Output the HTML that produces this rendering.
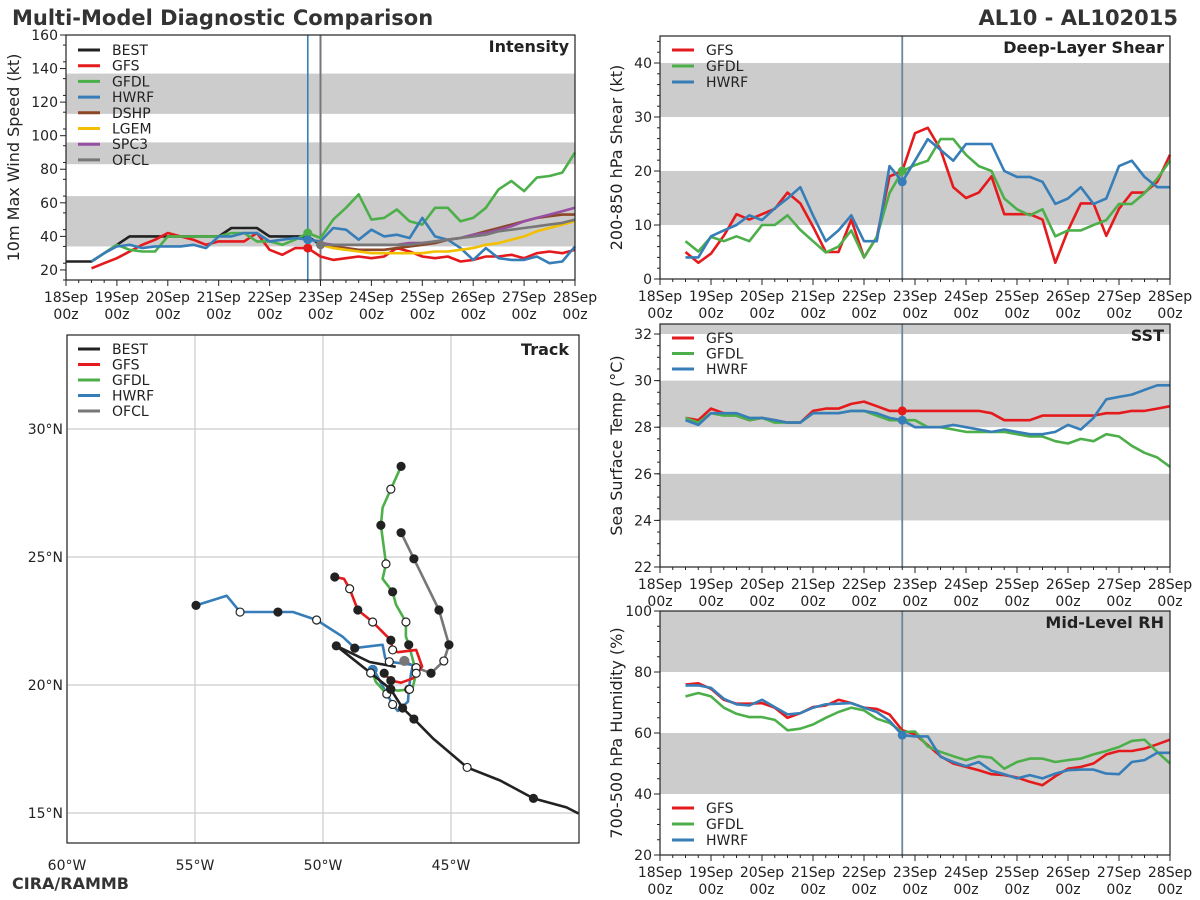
<!DOCTYPE html>
<html><head><meta charset="utf-8">
<style>
body{margin:0;background:#fff;}
svg{display:block;font-family:"DejaVu Sans","Liberation Sans",sans-serif;}
</style></head>
<body>
<svg id="fig" width="1200" height="900" viewBox="0 0 1200 900" xmlns="http://www.w3.org/2000/svg">
<text x="12" y="25" font-size="21" font-weight="bold" fill="#333">Multi-Model Diagnostic Comparison</text>
<text x="1178" y="25" font-size="21" font-weight="bold" fill="#333" text-anchor="end">AL10 - AL102015</text>
<text x="12" y="889" font-size="16" font-weight="bold" fill="#333">CIRA/RAMMB</text>
</svg>
<script>
// ---------- data ----------
const dayLabels = ["18Sep","19Sep","20Sep","21Sep","22Sep","23Sep","24Sep","25Sep","26Sep","27Sep","28Sep"];
const N = null;
// intensity (kt), 6-hourly from 18Sep00z (index 0..40)
const intBEST = [25,25,25,30,35,40,40,40,40,40,40,40,40,45,45,45,40,40,40,40,35];
const intGFS = [N,N,21,24,27,31,35,38,42,40,38,35,37,37,37,42,32,29,33,33,28,26,27,28,27,28,33,31,28,27,28,25,26,28,28,29,27,30,31,30,32];
const intGFDL = [N,N,25,30,35,32,31,31,40,40,40,40,40,42,42,37,37,35,38,42,39,50,57,65,50,51,56,49,47,57,57,49,51,57,68,73,67,75,76,78,90];
const intHWRF = [N,N,25,30,34,35,33,34,34,34,35,33,40,40,42,42,37,38,39,38,37,45,44,38,44,40,41,39,51,40,38,33,26,33,27,26,26,28,24,25,34];
const intDSHP = [35,34,33,32,32,32,33,34,35,36,38,39,41,43,45,47,49,51,52,53,53];
const intLGEM = [35,33,32,31,30,30,30,30,30,31,31,32,33,35,36,38,40,43,45,47,49];
const intSPC3 = [36,35,35,35,35,35,35,36,36,37,38,39,41,42,44,46,49,51,53,55,57];
const intOFCL = [35,35,35,35,35,35,35,35,36,37,38,39,40,41,43,44,45,46,47,48,50];
const intTicks = [20,40,60,80,100,120,140,160];
// shear (kt), index 2..40
const shrGFS = [5,3,4.7,8,12,11,12,13,16,14,9.7,5,5,11,4,7.8,19,20,27,28,24,17,15,16,19,12,12,12,11,3,9,14,14,8,13,16,16,18,23];
const shrGFDL = [7,5.1,7.8,7,7.9,7,10,10,11.8,9.1,7,4.9,6,9,4,7.8,15.9,20,21.1,21.9,25.9,25.9,23,20.9,20,14.9,12.9,11.8,12.9,7.9,9,9,10,10.9,13.9,13.9,15.9,18.6,21.9];
const shrHWRF = [4,4,7.9,9,10,11.8,10.9,13.1,14.9,17,11.8,7,9,11.8,7,7,20.9,18,21.9,25.9,23.9,21.9,25,25,25,20,18.9,18.9,18,13.9,14.9,17,13.9,14.9,20.9,21.9,18.9,17,17];
const shrTicks = [0,10,20,30,40];
// SST (C), index 2..40
const sstGFS = [28.4,28.3,28.8,28.6,28.5,28.3,28.4,28.3,28.2,28.2,28.7,28.8,28.8,29.0,29.1,28.9,28.7,28.7,28.7,28.7,28.7,28.7,28.7,28.7,28.6,28.3,28.3,28.3,28.5,28.5,28.5,28.5,28.5,28.6,28.6,28.7,28.7,28.8,28.9];
const sstGFDL = [28.4,28.2,28.6,28.5,28.5,28.3,28.4,28.2,28.2,28.2,28.6,28.6,28.6,28.7,28.7,28.5,28.3,28.3,28.3,28.0,28.0,27.9,27.8,27.8,27.8,27.8,27.7,27.6,27.6,27.4,27.3,27.5,27.4,27.7,27.6,27.2,26.9,26.7,26.3];
const sstHWRF = [28.3,28.1,28.6,28.6,28.6,28.4,28.4,28.3,28.2,28.2,28.6,28.6,28.6,28.7,28.7,28.6,28.4,28.3,28.0,28.0,28.0,28.1,28.0,27.9,27.8,27.9,27.8,27.7,27.7,27.8,28.1,27.9,28.4,29.2,29.3,29.4,29.6,29.8,29.8];
const sstTicks = [22,24,26,28,30,32];
// RH (%), index 2..40
const rhGFS = [75.9,76.3,74.5,70.9,69.6,69.6,69.8,68.3,65.0,66.5,68.5,69.0,70.9,69.8,68.3,67.9,66.1,60.9,59.6,56.0,52.4,50.0,48.9,47.8,46.5,46.2,45.4,44.0,42.9,45.8,48.3,48.9,50.0,53.0,54.1,54.1,54.9,56.3,57.8];
const rhGFDL = [72.0,73.1,72.0,68.3,66.3,65.2,65.2,64.3,60.9,61.4,62.8,65.0,66.9,68.3,67.4,64.7,63.3,60.3,60.5,55.6,53.8,52.4,51.1,52.4,51.9,48.3,50.5,51.6,51.6,50.5,51.1,51.6,53.0,54.1,55.4,57.4,57.8,53.8,50.0];
const rhHWRF = [75.6,75.6,74.8,71.2,69.4,69.0,70.9,68.5,66.1,66.5,68.3,69.4,69.6,69.8,68.3,66.9,64.0,59.3,58.9,58.9,52.2,50.5,49.1,50.5,47.6,46.5,45.1,46.2,45.1,46.7,47.8,48.0,48.0,46.7,46.5,50.5,51.1,53.5,53.5];
const rhTicks = [20,40,60,80,100];
// track (lon, lat)
const bestLon = [-40.02,-40.49,-41.78,-43.08,-44.37,-45.71,-46.45,-46.89,-47.36,-48.14,-49.48,-48.18,-47.16];
const bestLat = [14.98,15.22,15.57,16.27,16.78,17.92,18.67,19.10,19.84,20.47,21.53,20.90,20.71];
const bestMrk = ["","","f","","o","","f","f","f","o","f","",""];
const gfsLon = [-47.61,-47.35,-46.95,-46.49,-46.13,-46.36,-47.08,-47.28,-47.35,-48.06,-48.64,-48.96,-49.18,-49.54];
const gfsLat = [20.46,20.17,20.09,20.26,20.72,21.37,21.28,21.37,21.75,22.46,22.93,23.76,24.15,24.22];
const gfsMrk = ["f","f","","","","","","o","f","o","f","o","","f"];
const gfdlLon = [-48.06,-47.94,-47.51,-47.35,-47.08,-46.62,-46.49,-46.36,-46.49,-46.65,-46.76,-46.76,-47.15,-47.28,-47.67,-47.54,-47.74,-47.67,-47.35,-46.95];
const gfdlLat = [20.46,20.13,19.65,19.83,19.78,19.83,19.93,20.46,20.98,21.57,21.89,22.46,23.14,23.64,24.15,24.73,26.24,26.93,27.65,28.54];
const gfdlMrk = ["","","o","f","","o","","o","","f","","o","","f","","o","f","","o","f"];
const hwrfLon = [-48.06,-47.94,-47.28,-47.08,-46.68,-46.65,-46.56,-46.49,-47.41,-47.57,-47.67,-48.76,-49.24,-50.25,-51.17,-51.76,-53.24,-53.76,-54.96];
const hwrfLat = [20.59,20.46,19.24,18.99,19.35,19.83,20.46,20.78,20.91,21.05,21.57,21.44,21.89,22.54,22.85,22.85,22.85,23.49,23.11];
const hwrfMrk = ["h","","o","","","o","","","o","","","f","","o","","f","o","","f"];
const ofclLon = [-46.82,-46.36,-45.78,-45.28,-45.08,-45.47,-46.45,-46.95];
const ofclLat = [20.94,20.68,20.46,20.94,21.57,22.93,24.93,25.95];
const ofclMrk = ["g","o","f","o","f","f","f","f"];
const lonTicks = [-60,-55,-50,-45];
const latTicks = [15,20,25,30];

// ---------- helpers ----------
const NS="http://www.w3.org/2000/svg";
const svg=document.getElementById('fig');
function mk(tag,attrs,parent){const e=document.createElementNS(NS,tag);for(const k in attrs)e.setAttribute(k,attrs[k]);(parent||svg).appendChild(e);return e;}
const C={BEST:"#222222",GFS:"#e41a1c",GFDL:"#4daf4a",HWRF:"#377eb8",DSHP:"#8b4726",LGEM:"#f2c000",SPC3:"#984ea3",OFCL:"#777777"};

function timePanel(p){
  const g=mk('g',{});
  
  
  const X=t=>p.x0+(t/240)*(p.x1-p.x0);
  const Y=v=>p.y1-(v-p.vmin)/(p.vmax-p.vmin)*(p.y1-p.y0);
  p.bands.forEach(b=>{
    const r=mk('rect',{x:p.x0,y:Y(Math.min(b[1],p.vmax)),width:p.x1-p.x0,height:Y(b[0])-Y(Math.min(b[1],p.vmax)),fill:"#cccccc"},g);
    
    
  });
  // vertical lines
  p.vlines.forEach(v=>{
    const l=mk('line',{x1:X(v[0]),x2:X(v[0]),y1:p.y0,y2:p.y1,stroke:v[1],'stroke-width':v[2]},g);
    
    
  });
  // series
  p.series.forEach(s=>{
    let d="";let started=false;
    s.vals.forEach((v,i)=>{ if(v===null) return; const t=(s.start+i)*6; d+=(started?"L":"M")+X(t).toFixed(1)+" "+Y(v).toFixed(1); started=true;});
    const path=mk('path',{d:d,fill:"none",stroke:C[s.key],'stroke-width':2.6,'stroke-linejoin':'round'},g);
    
    
    if(s.dot!==undefined){
      const v=s.vals[s.dot-s.start];
      const c=mk('circle',{cx:X(s.dot*6),cy:Y(v),r:4.5,fill:C[s.key]},g);
      
      
    }
  });
  // frame
  const fr=mk('rect',{x:p.x0,y:p.y0,width:p.x1-p.x0,height:p.y1-p.y0,fill:"none",stroke:"#222",'stroke-width':1.2},g);
  
  
  // x ticks
  for(let h=0;h<=240;h+=6){
    const major=h%24===0;
    mk('line',{x1:X(h),x2:X(h),y1:p.y1,y2:p.y1+(major?6:3),stroke:"#222",'stroke-width':1},g);
  }
  dayLabels.forEach((lab,i)=>{
    const t=mk('text',{x:X(i*24),y:p.y1+22,'font-size':14,fill:"#222",'text-anchor':'middle'},g);
    t.textContent=lab;
    
    
    const t2=mk('text',{x:X(i*24),y:p.y1+39,'font-size':14,fill:"#222",'text-anchor':'middle'},g);
    t2.textContent="00z";
    
    
  });
  // y ticks
  p.ticks.forEach(v=>{
    mk('line',{x1:p.x0-6,x2:p.x0,y1:Y(v),y2:Y(v),stroke:"#222"},g);
    const t=mk('text',{x:p.x0-8,y:Y(v)+5,'font-size':14,fill:"#222",'text-anchor':'end'},g);
    t.textContent=v;
    
    
  });
  for(let v=p.vmin;v<=p.vmax+1e-6;v+=p.minor){ if(Y(v)>=p.y0-0.1&&Y(v)<=p.y1+0.1) mk('line',{x1:p.x0-3,x2:p.x0,y1:Y(v),y2:Y(v),stroke:"#222"},g);}
  const yl=mk('text',{x:0,y:0,'font-size':16,fill:"#222",'text-anchor':'middle',transform:`translate(${p.ylx},${(p.y0+p.y1)/2}) rotate(-90)`},g);
  yl.textContent=p.ylabel;
  
  
  const ti=mk('text',{x:p.x1-6,y:p.y0+17,'font-size':16,'font-weight':'bold',fill:"#222",'text-anchor':'end'},g);
  ti.textContent=p.title;
  
  
  legend(g,p.x0+12,p.legY,p.legend,p.legStep);
}
function legend(g,x,y,keys,step){
  keys.forEach((k,i)=>{
    const yy=y+i*step;
    const e=mk('g',{},g);
    
    
    mk('line',{x1:x,x2:x+22,y1:yy,y2:yy,stroke:C[k],'stroke-width':3},e);
    const t=mk('text',{x:x+34,y:yy+5,'font-size':14,fill:"#222"},e);
    t.textContent=k;
  });
}

timePanel({name:'intensity',x0:66,x1:575,y0:35,y1:280,vmin:14,vmax:160,minor:10,ticks:intTicks,
  bands:[[34,64],[83,96],[113,137]],vlines:[[114,"#377eb8",1.6],[120,"#777",2]],
  series:[{key:'BEST',start:0,vals:intBEST},{key:'GFS',start:0,vals:intGFS,dot:19},{key:'GFDL',start:0,vals:intGFDL,dot:19},{key:'HWRF',start:0,vals:intHWRF,dot:19},
    {key:'DSHP',start:20,vals:intDSHP},{key:'LGEM',start:20,vals:intLGEM},{key:'SPC3',start:20,vals:intSPC3},{key:'OFCL',start:20,vals:intOFCL,dot:20}],
  ylabel:'10m Max Wind Speed (kt)',ylx:19,title:'Intensity',legend:['BEST','GFS','GFDL','HWRF','DSHP','LGEM','SPC3','OFCL'],legY:50,legStep:15.7});
timePanel({name:'shear',x0:660,x1:1170,y0:36,y1:279,vmin:0,vmax:45,minor:2,ticks:shrTicks,
  bands:[[10,20],[30,40]],vlines:[[114,"#6f8596",1.8]],
  series:[{key:'GFS',start:2,vals:shrGFS},{key:'GFDL',start:2,vals:shrGFDL,dot:19},{key:'HWRF',start:2,vals:shrHWRF,dot:19}],
  ylabel:'200-850 hPa Shear (kt)',ylx:622,title:'Deep-Layer Shear',legend:['GFS','GFDL','HWRF'],legY:50,legStep:16});
timePanel({name:'sst',x0:660,x1:1170,y0:324,y1:567,vmin:22,vmax:32.43,minor:0.5,ticks:sstTicks,
  bands:[[24,26],[28,30],[32,33]],vlines:[[114,"#6f8596",1.8]],
  series:[{key:'GFS',start:2,vals:sstGFS,dot:19},{key:'GFDL',start:2,vals:sstGFDL},{key:'HWRF',start:2,vals:sstHWRF,dot:19}],
  ylabel:'Sea Surface Temp (°C)',ylx:622,title:'SST',legend:['GFS','GFDL','HWRF'],legY:338,legStep:15.5});
timePanel({name:'rh',x0:660,x1:1170,y0:611,y1:855,vmin:20,vmax:100,minor:5,ticks:rhTicks,
  bands:[[40,60],[80,100]],vlines:[[114,"#6f8596",1.8]],
  series:[{key:'GFS',start:2,vals:rhGFS},{key:'GFDL',start:2,vals:rhGFDL},{key:'HWRF',start:2,vals:rhHWRF,dot:19}],
  ylabel:'700-500 hPa Humidity (%)',ylx:622,title:'Mid-Level RH',legend:['GFS','GFDL','HWRF'],legY:808,legStep:16});

// ---------- track ----------
(function(){
  const x0=67,x1=579,y0=335,y1=843;
  const LX=lon=>x0+(lon+60)*25.6;
  const LY=lat=>685-(lat-20)*25.6;
  const g=mk('g',{});
  
  
  lonTicks.forEach(l=>{
    const ln=mk('line',{x1:LX(l),x2:LX(l),y1:y0,y2:y1,stroke:"#cccccc",'stroke-width':1.2},g);
    
    
    const t=mk('text',{x:LX(l),y:y1+27,'font-size':14,fill:"#222",'text-anchor':'middle'},g);
    t.textContent=Math.abs(l)+"°W";
    
    
  });
  latTicks.forEach(l=>{
    const ln=mk('line',{x1:x0,x2:x1,y1:LY(l),y2:LY(l),stroke:"#cccccc",'stroke-width':1.2},g);
    
    
    const t=mk('text',{x:x0-4,y:LY(l)+5,'font-size':14,fill:"#222",'text-anchor':'end'},g);
    t.textContent=l+"°N";
    
    
  });
  const tracks=[['OFCL',ofclLon,ofclLat,ofclMrk],['HWRF',hwrfLon,hwrfLat,hwrfMrk],['GFDL',gfdlLon,gfdlLat,gfdlMrk],['GFS',gfsLon,gfsLat,gfsMrk],['BEST',bestLon,bestLat,bestMrk]];
  tracks.forEach(tr=>{
    const [k,lo,la,mr]=tr;
    let d="";lo.forEach((v,i)=>{d+=(i?"L":"M")+LX(v).toFixed(1)+" "+LY(la[i]).toFixed(1);});
    const p=mk('path',{d:d,fill:"none",stroke:C[k],'stroke-width':2.6,'stroke-linejoin':'round'},g);
    
    
  });
  tracks.forEach(tr=>{
    const [k,lo,la,mr]=tr;
    mr.forEach((m,i)=>{
      if(!m) return;
      let fill="#222",stroke="#222",r=4;
      if(m==='o'){fill="#fff";}
      if(m==='h'){fill=C.HWRF;stroke=C.HWRF;r=4.5;}
      if(m==='g'){fill="#777";stroke="#777";r=4.5;}
      const c=mk('circle',{cx:LX(lo[i]),cy:LY(la[i]),r:r,fill:fill,stroke:stroke,'stroke-width':1.2},g);
      
      
    });
  });
  const fr=mk('rect',{x:x0,y:y0,width:x1-x0,height:y1-y0,fill:"none",stroke:"#222",'stroke-width':1.2},g);
  
  
  const ti=mk('text',{x:569,y:355,'font-size':16,'font-weight':'bold',fill:"#222",'text-anchor':'end'},g);
  ti.textContent='Track';
  
  
  legend(g,78,349,['BEST','GFS','GFDL','HWRF','OFCL'],15.5);
})();
</script>
</body></html>
